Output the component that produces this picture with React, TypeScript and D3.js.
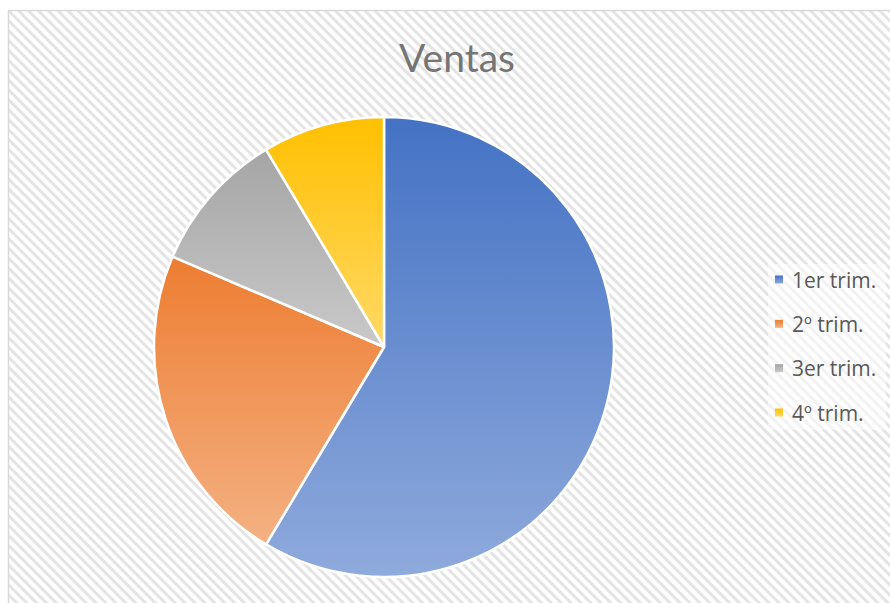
import { useEffect, useRef } from "react";
import * as d3 from "d3";

const categories = ["1er trim.", "2º trim.", "3er trim.", "4º trim."];
const values = [8.2, 3.2, 1.4, 1.2];
const topColors = ["#4472C4", "#ED7D31", "#A5A5A5", "#FFC000"];
const bottomColors = ["#8FAADC", "#F4B183", "#C9C9C9", "#FFD966"];
const title = "Ventas";

export default function App() {
  const ref = useRef<SVGSVGElement>(null);

  useEffect(() => {
    const width = 890;
    const height = 603;
    const svg = d3.select(ref.current);
    svg.selectAll("*").remove();
    svg.attr("width", width).attr("height", height);

    const defs = svg.append("defs");

    // diagonal hatch background
    const pat = defs
      .append("pattern")
      .attr("id", "hatch")
      .attr("patternUnits", "userSpaceOnUse")
      .attr("width", 7)
      .attr("height", 7)
      .attr("patternTransform", "rotate(45)");
    pat.append("rect").attr("width", 7).attr("height", 7).attr("fill", "#ffffff");
    pat
      .append("rect")
      .attr("width", 7)
      .attr("height", 3)
      .attr("fill", "#e4e4e4");

    categories.forEach((c, i) => {
      const g = defs
        .append("linearGradient")
        .attr("id", `grad${i}`)
        .attr("x1", 0)
        .attr("y1", 0)
        .attr("x2", 0)
        .attr("y2", 1);
      g.append("stop").attr("offset", "0%").attr("stop-color", topColors[i]);
      g.append("stop").attr("offset", "100%").attr("stop-color", bottomColors[i]);
    });

    svg
      .append("rect")
      .attr("x", 8.5)
      .attr("y", 10.5)
      .attr("width", width)
      .attr("height", height)
      .attr("fill", "url(#hatch)")
      .attr("stroke", "#d9d9d9")
      .attr("stroke-width", 1.5);

    svg
      .append("text")
      .attr("x", 457)
      .attr("y", 72)
      .attr("text-anchor", "middle")
      .attr("fill", "#757575")
      .style("font-family", "Lato, 'Open Sans', sans-serif")
      .style("font-size", "39px")
      .text(title);

    const cx = 384;
    const cy = 347;
    const radius = 230;

    const pie = d3.pie<number>().sort(null).value((d) => d);
    const arc = d3.arc<d3.PieArcDatum<number>>().innerRadius(0).outerRadius(radius);

    svg
      .append("g")
      .attr("transform", `translate(${cx},${cy})`)
      .selectAll("path")
      .data(pie(values))
      .join("path")
      .attr("d", arc)
      .attr("fill", (d, i) => `url(#grad${i})`)
      .attr("stroke", "#ffffff")
      .attr("stroke-width", 2.5)
      .attr("stroke-linejoin", "round");

    // legend
    const legendY = d3.scaleLinear().domain([0, categories.length - 1]).range([280, 413]);
    svg
      .append("rect")
      .attr("x", 768)
      .attr("y", 264)
      .attr("width", 118)
      .attr("height", 166)
      .attr("fill", "#ffffff")
      .attr("opacity", 0.5);

    const legend = svg
      .append("g")
      .selectAll("g")
      .data(categories)
      .join("g")
      .attr("transform", (d, i) => `translate(775,${legendY(i)})`);

    legend
      .append("rect")
      .attr("x", 0)
      .attr("y", -4.5)
      .attr("width", 8)
      .attr("height", 8)
      .attr("fill", (d, i) => `url(#grad${i})`);

    legend
      .append("text")
      .attr("x", 17)
      .attr("y", 7.5)
      .attr("fill", "#595959")
      .style("font-family", "'Open Sans', sans-serif")
      .style("font-size", "21px")
      .text((d) => d);
  }, []);

  return (
    <svg
      ref={ref}
      style={{ position: "absolute", left: 0, top: 0, display: "block" }}
      role="img"
      aria-label="Ventas pie chart"
    />
  );
}
